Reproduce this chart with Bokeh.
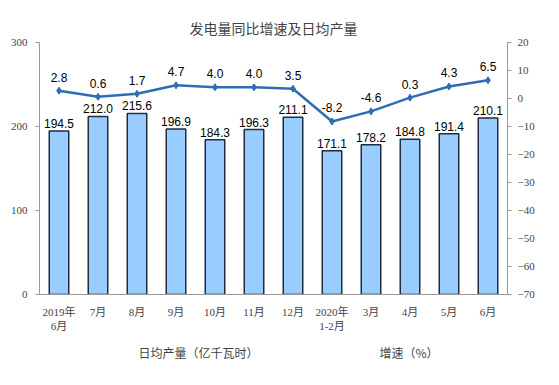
from bokeh.plotting import figure
from bokeh.layouts import column
from bokeh.models import Range1d, LinearAxis, SingleIntervalTicker, Legend, LegendItem, ColumnDataSource
from bokeh.core.properties import value
from bokeh.embed import file_html
from bokeh.resources import INLINE

categories = ["2019年\n6月", "7月", "8月", "9月", "10月", "11月", "12月",
              "2020年\n1-2月", "3月", "4月", "5月", "6月"]
daily_output = [194.5, 212.0, 215.6, 196.9, 184.3, 196.3, 211.1, 171.1, 178.2, 184.8, 191.4, 210.1]
growth = [2.8, 0.6, 1.7, 4.7, 4.0, 4.0, 3.5, -8.2, -4.6, 0.3, 4.3, 6.5]
legend_labels = ["日均产量（亿千瓦时）", "增速（%）"]

bar_labels = [f"{v:.1f}" for v in daily_output]
line_labels = [f"{v:.1f}" for v in growth]

src = ColumnDataSource(dict(cat=categories, out=daily_output, gr=growth,
                            bl=bar_labels, ll=line_labels))

NUM_FONT = "Liberation Serif, Noto Sans CJK SC"
LBL_FONT = "Liberation Sans"
BAR_FILL = "#99CCFF"
BAR_LINE = "#1F2D3D"
LINE_COL = "#2E6DB4"

p = figure(frame_width=468, frame_height=252, x_range=categories, y_range=Range1d(0, 300),
           output_backend="svg", toolbar_location=None,
           min_border_left=39, min_border_right=44, min_border_top=42, min_border_bottom=0)
p.title.text = "发电量同比增速及日均产量"
p.title.align = "center"
p.title.text_font = "Noto Sans CJK SC"
p.title.text_font_size = "14px"
p.title.text_font_style = "normal"

p.outline_line_color = None
p.xgrid.grid_line_color = None
p.ygrid.grid_line_color = None
p.x_range.range_padding = 0

p.extra_y_ranges = {"y2": Range1d(-70, 20)}

p.vbar(x="cat", top="out", width=0.5, source=src, fill_color=BAR_FILL,
       line_color=BAR_LINE, line_width=1.5)
p.text(x="cat", y="out", text="bl", source=src, text_align="center",
       text_baseline="bottom", y_offset=-3, text_font=value(LBL_FONT),
       text_font_size="12px", text_color="#000000")

p.line(x="cat", y="gr", source=src, y_range_name="y2", line_color=LINE_COL, line_width=2.5)
p.scatter(x="cat", y="gr", source=src, y_range_name="y2", marker="diamond", size=7,
          fill_color=LINE_COL, line_color=LINE_COL)
p.text(x="cat", y="gr", text="ll", source=src, y_range_name="y2", text_align="center",
       text_baseline="bottom", y_offset=-9, text_font=value(LBL_FONT),
       text_font_size="12px", text_color="#000000")

ax = p.yaxis[0]
ax.ticker = SingleIntervalTicker(interval=100)
ax.axis_line_color = "#999999"
ax.major_tick_line_color = "#999999"
ax.major_tick_out = 4
ax.major_tick_in = 0
ax.minor_tick_line_color = None
ax.major_label_text_font = NUM_FONT
ax.major_label_text_font_size = "11px"
ax.major_label_standoff = 8

ax2 = LinearAxis(y_range_name="y2", ticker=SingleIntervalTicker(interval=10))
ax2.axis_line_color = "#999999"
ax2.major_tick_line_color = "#999999"
ax2.major_tick_out = 4
ax2.major_tick_in = 0
ax2.minor_tick_line_color = None
ax2.major_label_text_font = NUM_FONT
ax2.major_label_text_font_size = "11px"
ax2.major_label_standoff = 6
p.add_layout(ax2, "right")

xa = p.xaxis[0]
xa.axis_line_color = "#999999"
xa.major_tick_line_color = None
xa.minor_tick_line_color = None
xa.major_label_text_font = NUM_FONT
xa.major_label_text_font_size = "11px"
xa.major_label_standoff = 5

# separate strip for the legend (legend-only renderers with empty data)
lg = figure(width=551, height=36, x_range=Range1d(0, 1), y_range=Range1d(0, 1),
            output_backend="svg", toolbar_location=None, min_border=0)
lg.axis.visible = False
lg.xgrid.grid_line_color = None
lg.ygrid.grid_line_color = None
lg.outline_line_color = None
lb = lg.vbar(x=[], top=[], width=0.5, fill_color=BAR_FILL, line_color=BAR_LINE, line_width=1.5)
ll = lg.line(x=[], y=[], line_color=LINE_COL, line_width=2.5)
lm = lg.scatter(x=[], y=[], marker="diamond", size=7, fill_color=LINE_COL, line_color=LINE_COL)
legend = Legend(items=[LegendItem(label=legend_labels[0], renderers=[lb]),
                       LegendItem(label=legend_labels[1], renderers=[ll, lm])],
                orientation="horizontal", location="center",
                label_text_font="Noto Sans CJK SC", label_text_font_size="12px",
                glyph_width=28, glyph_height=10, spacing=90, border_line_color=None,
                background_fill_alpha=0, margin=0, padding=2, label_standoff=3)
lg.add_layout(legend)

layout = column(p, lg, spacing=0)
open("out.html", "w").write(file_html(layout, INLINE))
